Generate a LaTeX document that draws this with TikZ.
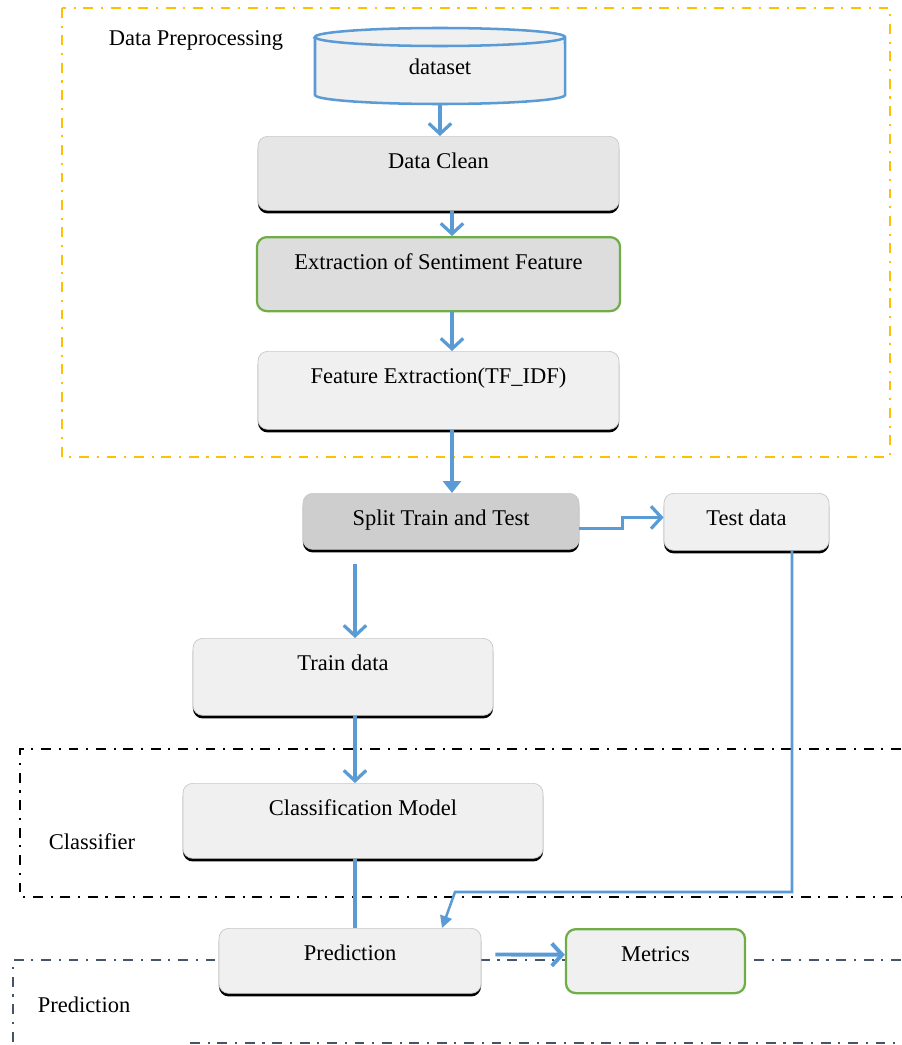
\documentclass[tikz,border=0pt]{standalone}
\usepackage{fontspec}
\setmainfont{Liberation Serif}
\usetikzlibrary{arrows.meta,shadows}
\definecolor{lineblue}{HTML}{5B9BD5}
\definecolor{goldline}{HTML}{FFC000}
\definecolor{slateline}{HTML}{44546A}
\definecolor{leafgreen}{HTML}{70AD47}
\definecolor{boxfill}{HTML}{F0F0F0}
\definecolor{boxline}{HTML}{C8C8C8}
\begin{document}
\begin{tikzpicture}[x=0.025cm,y=-0.025cm,>={Straight Barb[length=2.6mm,width=5.6mm]}]
\tikzstyle{every node}=[font=\fontsize{16}{19}\selectfont]
\tikzstyle{box}=[draw=boxline,line width=0.5pt,rounded corners=7pt,fill=boxfill,anchor=north,inner ysep=0pt,text height=0.8cm,drop shadow={shadow xshift=0pt,shadow yshift=-2.2pt,fill=black,opacity=1}]
\tikzstyle{gbox}=[draw=leafgreen,line width=1.6pt,rounded corners=7pt,fill=boxfill,anchor=north,inner ysep=0pt,text height=0.8cm]
\tikzstyle{flow}=[lineblue,line width=2.3pt,->]
\tikzstyle{frame}=[line width=1.5pt,dash pattern=on 7pt off 5.5pt on 1.5pt off 5.5pt]
\useasboundingbox (0,0) rectangle (901,1045);
% group frames
\draw[frame,goldline,line width=1.3pt] (62,8) rectangle (890,457);
\draw[frame,black] (901,749) -- (20,749) -- (20,897) -- (901,897);
\draw[frame,slateline] (901,960) -- (13,960) -- (13,1045);
\draw[frame,slateline] (190,1043) -- (901,1043);
\node (prelbl) at (196,40) {Data Preprocessing};
\node (clslbl) at (92,842) {Classifier};
\node (prdlbl) at (84,1005) {Prediction};
% dataset
\draw[lineblue,line width=1.8pt,fill=boxfill] (315,37) -- (315,95) arc[start angle=180,end angle=360,x radius=3.125cm,y radius=0.225cm] -- (565,37) arc[start angle=0,end angle=180,x radius=3.125cm,y radius=0.225cm] -- cycle;
\draw[lineblue,line width=1.8pt] (315,37) arc[start angle=180,end angle=360,x radius=3.125cm,y radius=0.225cm];
\node (data) at (440,67) {dataset};
\coordinate (datab) at (440,104);
% steps
\node[box,fill=boxfill!96!black,minimum width=9.025cm,minimum height=1.85cm,text depth=1.05cm] (clean) at (438.5,136) {Data Clean};
\node[gbox,fill=boxfill!92!black,minimum width=9.075cm,minimum height=1.85cm,text depth=1.05cm] (senti) at (438.5,236) {Extraction of Sentiment Feature};
\node[box,minimum width=9.025cm,minimum height=1.95cm,text depth=1.15cm] (tfidf) at (438.5,351) {Feature Extraction(TF\_IDF)};
\node[box,fill=boxfill!86!black,minimum width=6.9cm,minimum height=1.4cm,text depth=0.6cm] (split) at (441,493) {Split Train and Test};
\node[box,minimum width=4.125cm,minimum height=1.425cm,text depth=0.625cm] (test) at (746.5,493) {Test data};
\node[box,minimum width=7.5cm,minimum height=1.925cm,text depth=1.125cm] (train) at (343,638) {Train data};
\node[box,minimum width=9cm,minimum height=1.875cm,text depth=1.075cm] (model) at (363,783) {Classification Model};
\node[box,minimum width=6.55cm,minimum height=1.625cm,text depth=0.825cm] (pred) at (350,928) {Prediction};
\node[gbox,minimum width=4.475cm,minimum height=1.6cm,text depth=0.8cm] (metric) at (655.5,928) {Metrics};
\coordinate (colA) at (452,0);
\coordinate (colB) at (355,0);
\coordinate (colC) at (792,0);
\coordinate (bend) at (455,892);
% connectors
\draw[flow] (datab) -- (clean.north -| datab);
\draw[flow] (clean.south -| colA) -- (senti.north -| colA);
\draw[flow] (senti.south -| colA) -- (tfidf.north -| colA);
\draw[flow,-{Triangle[length=3mm,width=4.5mm]}] (tfidf.south -| colA) -- (split.north -| colA);
\draw[flow] ([yshift=-0.18cm]split.east) -- ++(43,0) |- ([yshift=0.11cm]test.west);
\draw[flow] ([yshift=-0.35cm]split.south -| colB) -- (train.north -| colB);
\draw[flow] (train.south -| colB) -- (model.north -| colB);
\draw[lineblue,line width=2.3pt] (model.south -| colB) -- (pred.north -| colB);
\draw[lineblue,line width=1.8pt,-{Triangle[length=3mm,width=3mm]}] (test.south -| colC) |- (bend) -- ([xshift=2.3cm]pred.north);
\draw[flow,line width=2.8pt] ([xshift=0.35cm,yshift=0.16cm]pred.east) -- ([yshift=0.16cm]metric.west);
\end{tikzpicture}
\end{document}
